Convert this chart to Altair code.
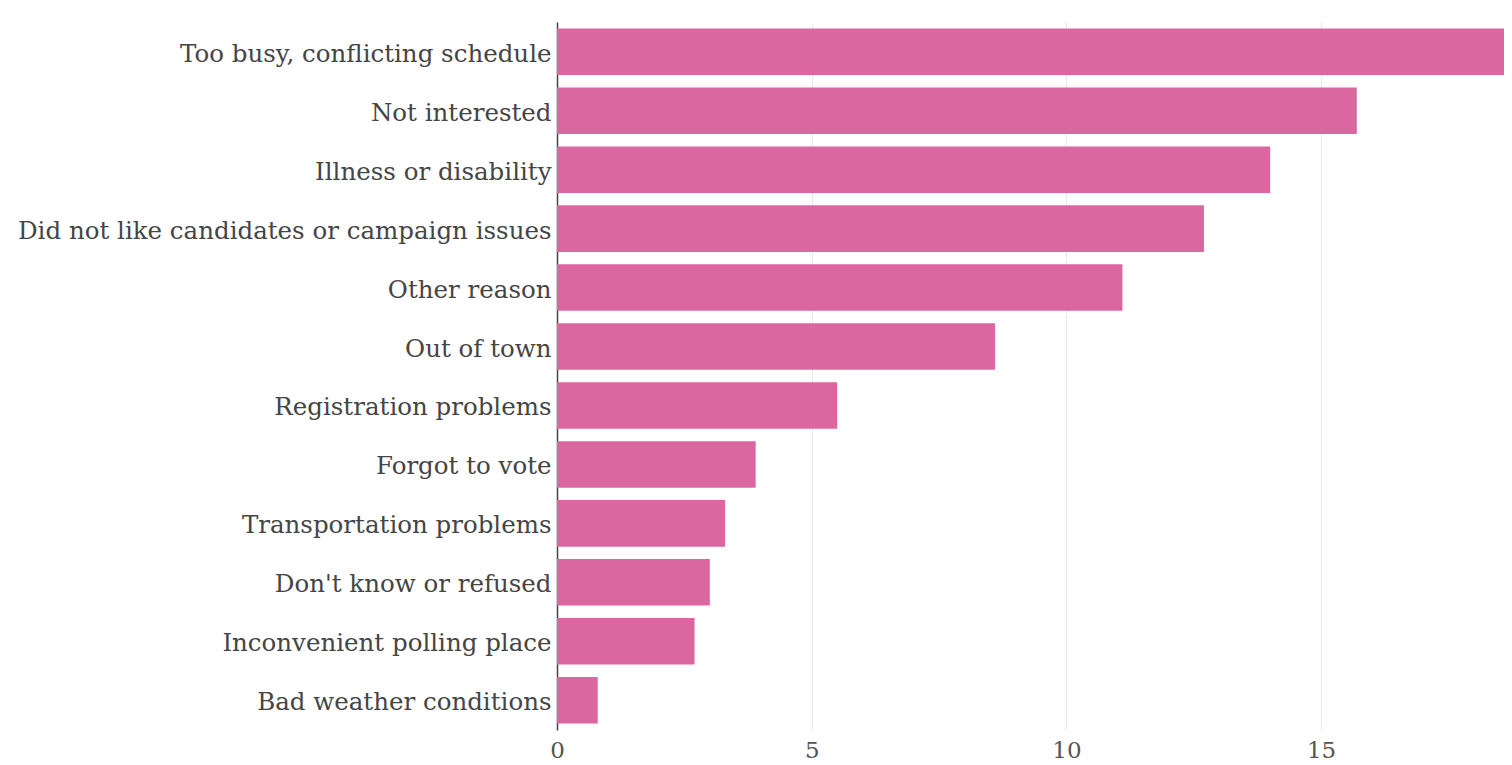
import altair as alt
import pandas as pd

reasons = [
    "Too busy, conflicting schedule",
    "Not interested",
    "Illness or disability",
    "Did not like candidates or campaign issues",
    "Other reason",
    "Out of town",
    "Registration problems",
    "Forgot to vote",
    "Transportation problems",
    "Don't know or refused",
    "Inconvenient polling place",
    "Bad weather conditions",
]
values = [18.9, 15.7, 14.0, 12.7, 11.1, 8.6, 5.5, 3.9, 3.3, 3.0, 2.7, 0.8]
x_ticks = [0, 5, 10, 15]

df = pd.DataFrame({"reason": reasons, "value": values})

FONT = "DejaVu Serif"

chart = (
    alt.Chart(df)
    .mark_bar(color="#db67a1", clip=True)
    .encode(
        x=alt.X(
            "value:Q",
            scale=alt.Scale(domain=[0, 18.59], nice=False, zero=True),
            axis=alt.Axis(
                values=x_ticks,
                title=None,
                domain=False,
                ticks=False,
                grid=True,
                gridColor="#e8e8e8",
                gridWidth=1,
                labelFont=FONT,
                labelFontSize=23,
                labelColor="#555555",
                labelPadding=9,
                labelFlush=False,
                format="d",
            ),
        ),
        y=alt.Y(
            "reason:N",
            sort=reasons,
            scale=alt.Scale(paddingInner=0.21, paddingOuter=0.11),
            axis=alt.Axis(
                title=None,
                domain=True,
                domainColor="#444444",
                domainWidth=1.5,
                ticks=False,
                grid=False,
                labelFont=FONT,
                labelFontSize=24.5,
                labelColor="#454545",
                labelPadding=6,
                labelOffset=3,
                labelLimit=0,
            ),
        ),
    )
    .properties(
        width=947,
        height=708,
        background="white",
        autosize=alt.AutoSizeParams(type="none"),
        padding={"left": 549, "top": 14, "right": 0, "bottom": 35},
    )
    .configure_view(stroke=None)
)

chart.save("out.html", embed_options={"renderer": "svg", "actions": False})
